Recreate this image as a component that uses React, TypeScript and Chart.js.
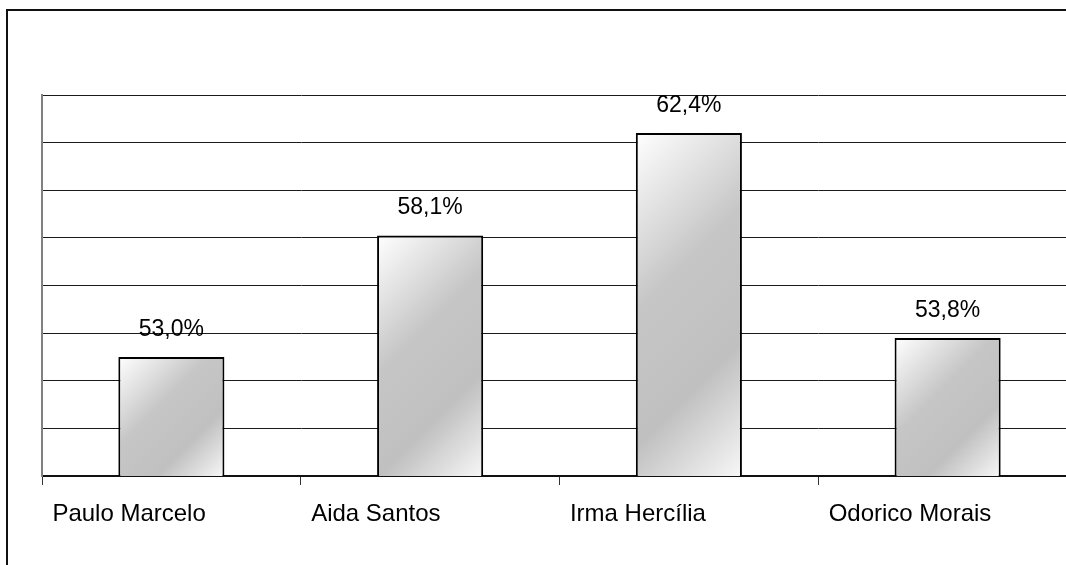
import React, { useEffect, useRef } from "react";
import { Chart, registerables } from "chart.js";

Chart.register(...registerables);

// Candidates and their percentages
const candidates: string[] = ["Paulo Marcelo", "Aida Santos", "Irma Hercília", "Odorico Morais"];
const percentages: number[] = [53.0, 58.1, 62.4, 53.8];

// Value axis range (no labels shown, gridlines only)
const axisMin = 48;
const axisMax = 64;
const axisStep = 2;

const CANVAS_W = 1110;
const CANVAS_H = 600;
const BAR_PCT = 0.41;
const FONT = "'Liberation Sans', Arial, sans-serif";

const formatPct = (v: number) => v.toFixed(1).replace(".", ",") + "%";

// 45° silver gradient, resolved per bar from the scales
const barFill = (context: any) => {
  const chart = context.chart;
  const xs = chart.scales?.x;
  const ys = chart.scales?.y;
  if (!chart.chartArea || !xs || !ys || context.dataIndex === undefined) return "#c0c0c0";
  const value = context.raw as number;
  const cx = xs.getPixelForValue(context.dataIndex);
  const w = (xs.width / candidates.length) * BAR_PCT;
  const top = ys.getPixelForValue(value);
  const base = ys.getPixelForValue(axisMin);
  const left = cx - w / 2;
  const span = (w + (base - top)) / 2;
  const g = chart.ctx.createLinearGradient(left, top, left + span, top + span);
  g.addColorStop(0, "#ffffff");
  g.addColorStop(0.4, "#c6c6c6");
  g.addColorStop(0.7, "#c0c0c0");
  g.addColorStop(1, "#f7f7f7");
  return g;
};

// Outer frame of the chart object
const framePlugin = {
  id: "frame",
  beforeDraw(chart: any) {
    const ctx = chart.ctx;
    ctx.save();
    ctx.fillStyle = "#ffffff";
    ctx.fillRect(0, 0, chart.width, chart.height);
    ctx.strokeStyle = "#111111";
    ctx.lineWidth = 2;
    ctx.beginPath();
    ctx.moveTo(7, chart.height);
    ctx.lineTo(7, 10);
    ctx.lineTo(chart.width, 10);
    ctx.stroke();
    ctx.restore();
  },
};

// Percentage labels above bars
const valueLabelPlugin = {
  id: "valueLabels",
  afterDatasetsDraw(chart: any) {
    const ctx = chart.ctx;
    const meta = chart.getDatasetMeta(0);
    const values = chart.data.datasets[0].data as number[];
    ctx.save();
    ctx.font = `23px ${FONT}`;
    ctx.fillStyle = "#000000";
    ctx.textAlign = "center";
    ctx.textBaseline = "alphabetic";
    meta.data.forEach((bar: any, i: number) => {
      ctx.fillText(formatPct(values[i]), bar.x, bar.y - 21);
    });
    ctx.restore();
  },
};

export default function App() {
  const canvasRef = useRef<HTMLCanvasElement | null>(null);

  useEffect(() => {
    if (!canvasRef.current) return;
    const chart = new Chart(canvasRef.current, {
      type: "bar",
      data: {
        labels: candidates,
        datasets: [
          {
            data: percentages,
            backgroundColor: barFill,
            borderColor: "#000000",
            borderWidth: 2,
            borderSkipped: false,
            categoryPercentage: 1,
            barPercentage: BAR_PCT,
          },
        ],
      },
      options: {
        animation: false,
        responsive: false,
        devicePixelRatio: 1,
        layout: { padding: { left: 42, top: 95, right: CANVAS_W - 1077, bottom: 0 } },
        plugins: {
          legend: { display: false },
          tooltip: { enabled: false },
          title: { display: false },
        },
        scales: {
          x: {
            type: "category",
            offset: true,
            afterFit(scale: any) {
              scale.height = CANVAS_H - 476;
              scale.paddingLeft = 0;
              scale.paddingRight = 0;
            },
            grid: {
              display: true,
              drawOnChartArea: false,
              drawTicks: true,
              tickLength: 9,
              offset: true,
              color: "#333333",
              lineWidth: 1,
            },
            border: { display: true, color: "#111111", width: 2 },
            ticks: {
              font: { family: FONT, size: 24 },
              color: "#000000",
              align: "start",
              labelOffset: -119,
              padding: 15,
              maxRotation: 0,
              minRotation: 0,
              autoSkip: false,
            },
          },
          y: {
            min: axisMin,
            max: axisMax,
            afterFit(scale: any) {
              scale.width = 0;
              scale.paddingTop = 0;
              scale.paddingBottom = 0;
            },
            ticks: { display: false, stepSize: axisStep },
            grid: {
              display: true,
              drawTicks: false,
              color: "#1a1a1a",
              lineWidth: 1,
            },
            border: { display: true, color: "#808080", width: 2 },
          },
        },
      },
      plugins: [framePlugin, valueLabelPlugin],
    });
    return () => chart.destroy();
  }, []);

  return (
    <div
      style={{
        position: "fixed",
        left: 0,
        top: 0,
        width: 1066,
        height: 565,
        overflow: "hidden",
        background: "#ffffff",
      }}
    >
      <canvas
        ref={canvasRef}
        width={CANVAS_W}
        height={CANVAS_H}
        style={{ display: "block", width: CANVAS_W, height: CANVAS_H }}
      />
    </div>
  );
}
